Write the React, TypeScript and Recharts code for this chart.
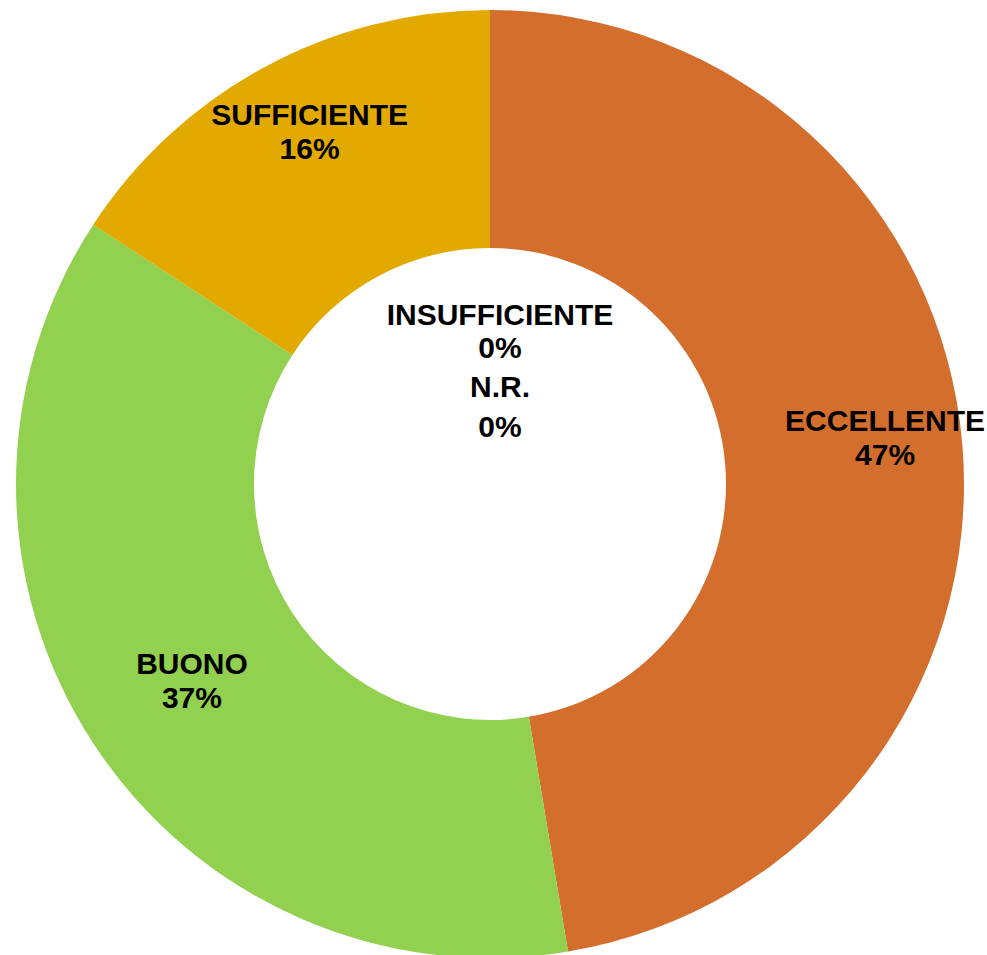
import React from "react";
import { PieChart, Pie, Cell } from "recharts";

const categories = ["ECCELLENTE", "BUONO", "SUFFICIENTE", "INSUFFICIENTE", "N.R."];
const counts = [18, 14, 6, 0, 0];
const colors = ["#D36E2C", "#92D050", "#E2AA00", "#5B9BD5", "#A5A5A5"];

const total = counts.reduce((a, b) => a + b, 0);
const data = categories.map((name, i) => ({
  name,
  value: counts[i],
  pct: Math.round((counts[i] / total) * 100) + "%",
}));

// label placement (style only): radius and angle tweak per slice
const labelPlace: Record<string, { r: number; da: number }> = {
  ECCELLENTE: { r: 398, da: 2.2 },
  BUONO: { r: 356, da: 0 },
  SUFFICIENTE: { r: 397, da: -1.4 },
};

const RAD = Math.PI / 180;
const FONT = "'Liberation Sans', Arial, sans-serif";

const renderLabel = (props: any) => {
  const { cx, cy, midAngle, index } = props;
  const d = data[index];
  if (!d) return null;
  const common = {
    textAnchor: "middle" as const,
    fontFamily: FONT,
    fontWeight: 700,
    fontSize: 30,
    fill: "#000",
  };
  if (d.value === 0) {
    const zeroIdx = data.filter((x, j) => x.value === 0 && j < index).length;
    const x = cx + 10;
    const y1 = cy - 159 + zeroIdx * 72;
    return (
      <text key={"l" + index} x={x} y={y1} {...common}>
        <tspan x={x} y={y1}>{d.name}</tspan>
        <tspan x={x} y={y1 + 33 + zeroIdx * 7}>{d.pct}</tspan>
      </text>
    );
  }
  const p = labelPlace[d.name] || { r: 370, da: 0 };
  const a = (midAngle + p.da) * RAD;
  const x = cx + p.r * Math.cos(a);
  const yc = cy - p.r * Math.sin(a);
  return (
    <text key={"l" + index} x={x} y={yc - 5} {...common}>
      <tspan x={x} y={yc - 5}>{d.name}</tspan>
      <tspan x={x} y={yc + 29}>{d.pct}</tspan>
    </text>
  );
};

export default function App() {
  return (
    <div
      style={{
        position: "fixed",
        top: 0,
        left: 0,
        width: 987,
        height: 955,
        background: "#fff",
        overflow: "hidden",
      }}
    >
      <PieChart width={987} height={955} margin={{ top: 0, right: 0, bottom: 0, left: 0 }}>
        <Pie
          data={data}
          dataKey="value"
          nameKey="name"
          cx={490}
          cy={484}
          innerRadius={236}
          outerRadius={474}
          startAngle={90}
          endAngle={-270}
          stroke="none"
          label={renderLabel}
          labelLine={false}
          isAnimationActive={false}
        >
          {data.map((d, i) => (
            <Cell key={d.name} fill={colors[i]} />
          ))}
        </Pie>
      </PieChart>
    </div>
  );
}
